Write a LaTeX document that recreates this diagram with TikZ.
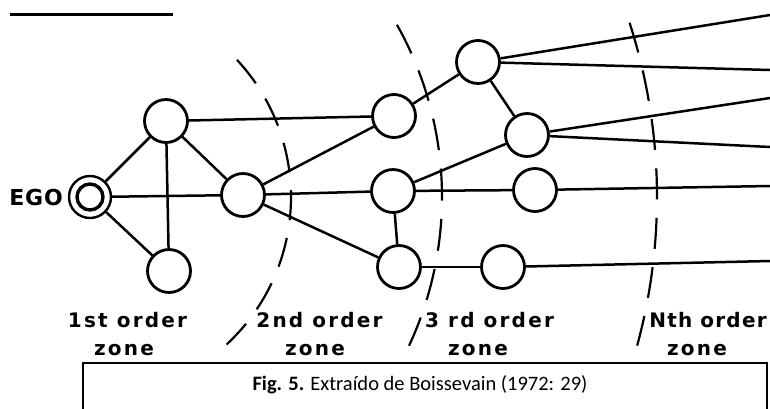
\documentclass[tikz,border=0pt]{standalone}
\usepackage{fontspec}
\newfontfamily\labfont[LetterSpace=11]{DejaVu Sans}
\newfontfamily\labfontn[LetterSpace=6]{DejaVu Sans}
\newfontfamily\egofont[LetterSpace=4]{DejaVu Sans}
\newfontfamily\capfont{Carlito}
\begin{document}
\begin{tikzpicture}[x=1pt,y=-1pt,
  nd/.style={circle,draw,line width=2.8pt,minimum size=43pt,inner sep=0pt},
  ed/.style={line width=2.5pt},
  zonearc/.style={line width=2.2pt,dash pattern=on 30pt off 18pt},
  zlab/.style={font=\labfont\bfseries\fontsize{20}{22}\selectfont,anchor=base,inner sep=0pt}]
\useasboundingbox (0,0) rectangle (770,408);
% top rule
\draw[line width=3pt] (10,14) -- (173,14);
% nodes
\node[circle,draw,line width=2.4pt,minimum size=42pt,inner sep=0pt] (ego) at (90,197) {};
\node[circle,draw,line width=3.4pt,minimum size=26pt,inner sep=0pt] (egoin) at (90,197) {};
\node[anchor=east,inner sep=0pt,font=\egofont\bfseries\fontsize{22}{24}\selectfont] (egot) at (63,197) {EGO};
\node[nd] (a1) at (166,121) {};
\node[nd] (a2) at (169,271) {};
\node[nd] (b) at (243,195) {};
\node[nd] (c1) at (394,116) {};
\node[nd] (c2) at (478,62) {};
\node[nd] (c3) at (527,135) {};
\node[nd] (c4) at (393,191) {};
\node[nd] (c5) at (535,190) {};
\node[nd] (c6) at (399,267) {};
\node[nd] (c7) at (503,267) {};
% right edge ends
\coordinate (r1) at (770,15);
\coordinate (r2) at (770,70);
\coordinate (r3) at (770,98);
\coordinate (r4) at (770,147);
\coordinate (r5) at (770,186);
\coordinate (r6) at (770,261);
% edges
\draw[ed] (ego) -- (a1);
\draw[ed] (ego) -- (b);
\draw[ed] (ego) -- (a2);
\draw[ed] (a1) -- (a2);
\draw[ed] (a1) -- (b);
\draw[ed] (a1) -- (c1);
\draw[ed] (b) -- (c1);
\draw[ed] (b) -- (c4);
\draw[ed] (b) -- (c6);
\draw[ed] (c1) -- (c2);
\draw[ed] (c2) -- (c3);
\draw[ed] (c4) -- (c3);
\draw[ed] (c4) -- (c5);
\draw[ed] (c4) -- (c6);
\draw[ed] (c6) -- (c7);
\draw[ed] (c2) -- (r1);
\draw[ed] (c2) -- (r2);
\draw[ed] (c3) -- (r3);
\draw[ed] (c3) -- (r4);
\draw[ed] (c5) -- (r5);
\draw[ed] (c7) -- (r6);
% zone boundaries
\draw[zonearc] (ego.center) ++(-43:201) arc[start angle=-43,end angle=47.2,radius=201];
\draw[zonearc,dash pattern=on 32pt off 18.5pt] (ego.center) ++(-29.3:352) arc[start angle=-29.3,end angle=25,radius=352];
\draw[zonearc,dash pattern=on 31pt off 18.5pt] (ego.center) ++(-17.9:567) arc[start angle=-17.9,end angle=15.2,radius=567];
% zone labels
\node[zlab] (z1a) at (127.5,327) {1st order};
\node[zlab] (z1b) at (124,355) {zone};
\node[zlab] (z2a) at (319.5,327) {2nd order};
\node[zlab] (z2b) at (315,355) {zone};
\node[zlab] (z3a) at (489.5,327) {3 rd order};
\node[zlab] (z3b) at (478,355) {zone};
\node[zlab,font=\labfontn\bfseries\fontsize{20}{22}\selectfont] (z4a) at (708,327) {Nth order};
\node[zlab] (z4b) at (697,355) {zone};
% caption box
\draw[line width=1.4pt] (83,409) -- (83,363) -- (767,363) -- (767,409);
\node[font=\capfont\fontsize{20.5}{22}\selectfont,inner sep=0pt] (cap) at (420,385) {\textbf{Fig. 5.} Extraído de Boissevain (1972: 29)};
\end{tikzpicture}
\end{document}
